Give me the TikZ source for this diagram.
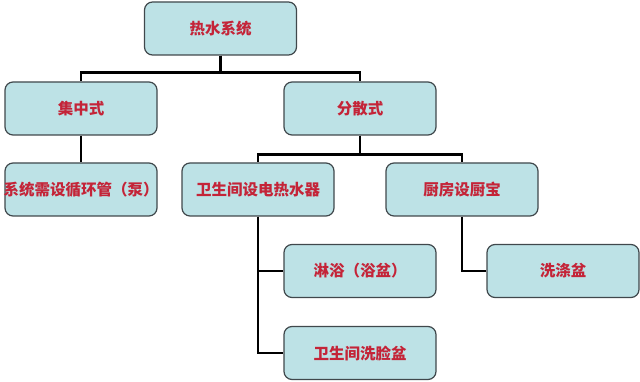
\documentclass[tikz,border=0pt]{standalone}
\usepackage{fontspec}
\newfontfamily\cjk{Noto Sans CJK SC}
\usepackage{tikz}
\usetikzlibrary{positioning}
\definecolor{boxfill}{RGB}{189,226,230}
\definecolor{boxline}{RGB}{64,72,76}
\definecolor{txtred}{RGB}{196,36,56}

\begin{document}
\begin{tikzpicture}[
  x=1pt, y=-1pt,
  font=\cjk\bfseries\fontsize{15.5}{18}\selectfont,
  box/.style={draw=boxline, line width=1.2pt, rounded corners=8pt, fill=boxfill,
    minimum width=152pt, minimum height=53pt, inner sep=0pt, text=txtred},
  link/.style={draw=black, line width=2.4pt}
]
\useasboundingbox (0,0) rectangle (640,382);

\node[box] (root) at (220.5,28.5) {热水系统};
\node[box] (jzs) at (81,108.5) {集中式};
\node[box] (fss) at (360,108.5) {分散式};
\node[box] (xhg) at (81,189.5) {\makebox[0pt]{系统需设循环管（泵）}};
\node[box] (rsq) at (258,189.5) {卫生间设电热水器};
\node[box] (cfb) at (462,189.5) {厨房设厨宝};
\node[box] (lyu) at (360,271) {淋浴（浴盆）};
\node[box] (xdp) at (563,271) {洗涤盆};
\node[box] (xlp) at (360,353) {卫生间洗脸盆};

% tree lines
\draw[link] (root.south) -- ++(0,17) -| (jzs.north);
\draw[link] (root.south) -- ++(0,17) -| (fss.north);
\draw[link] (jzs.south) -- (xhg.north);
\draw[link] (fss.south) -- ++(0,19) -| (rsq.north);
\draw[link] (fss.south) -- ++(0,19) -| (cfb.north);
\draw[link] (rsq.south) |- (lyu.west);
\draw[link] (rsq.south) |- (xlp.west);
\draw[link] (cfb.south) |- (xdp.west);
\end{tikzpicture}
\end{document}
